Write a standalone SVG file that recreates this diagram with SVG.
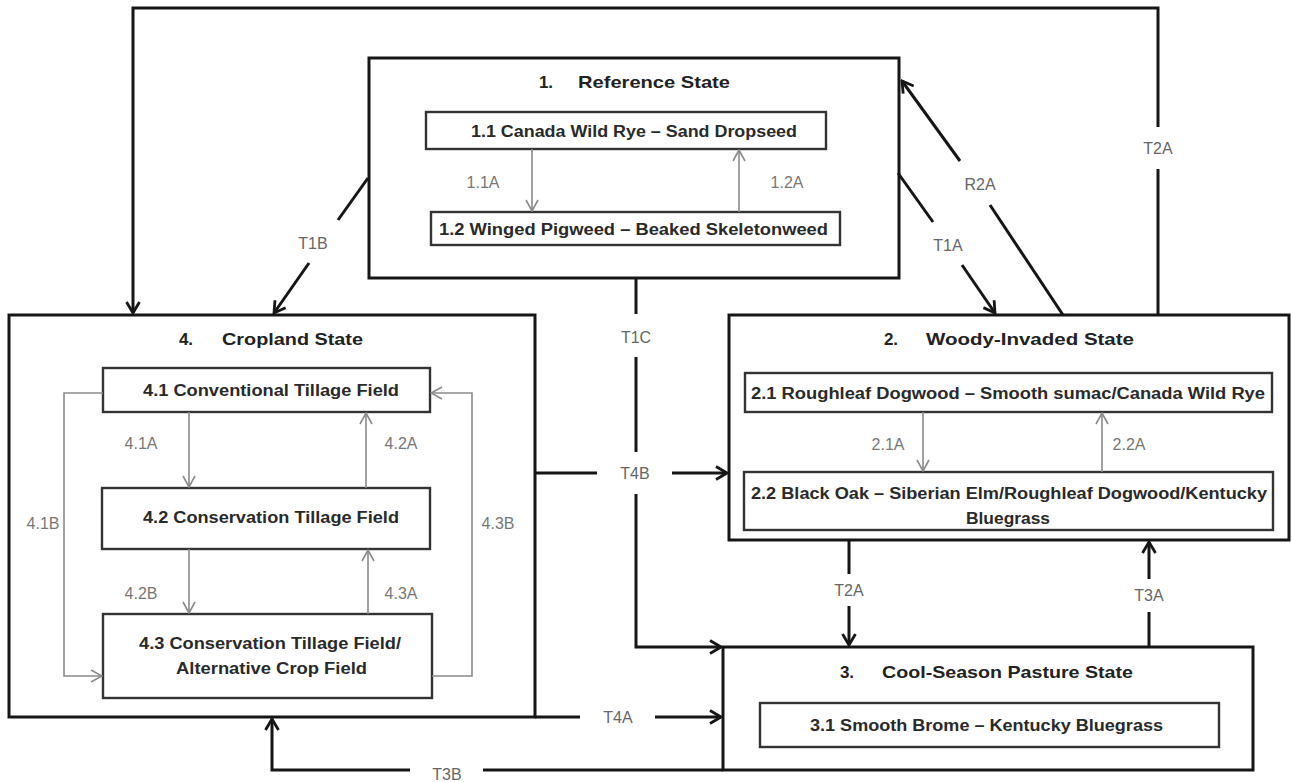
<svg xmlns="http://www.w3.org/2000/svg" width="1292" height="782" viewBox="0 0 1292 782">
<style>
.outer{fill:#fff;stroke:#161616;stroke-width:3}
.inner{fill:#fff;stroke:#333;stroke-width:2.4}
.title{font-family:"Liberation Sans",Arial,sans-serif;font-weight:bold;font-size:17px;fill:#222;dominant-baseline:central}
.box{font-family:"Liberation Sans",Arial,sans-serif;font-weight:bold;font-size:16px;fill:#2a2a2a;dominant-baseline:central}
.lbl{font-family:"Liberation Sans",Arial,sans-serif;font-size:16px;fill:#777;dominant-baseline:central;text-anchor:middle}
.tl{font-family:"Liberation Sans",Arial,sans-serif;font-size:16px;fill:#666;dominant-baseline:central;text-anchor:middle}
.blk{fill:none;stroke:#161616;stroke-width:3}
.gry{fill:none;stroke:#8a8a8a;stroke-width:1.6}
</style>
<defs>
<marker id="ab" viewBox="0 0 16 16" refX="14" refY="8" markerWidth="16" markerHeight="16" markerUnits="userSpaceOnUse" orient="auto"><path d="M3,1.5 L14,8 L3,14.5" fill="none" stroke="#161616" stroke-width="2.8"/></marker>
<marker id="ag" viewBox="0 0 14 14" refX="13" refY="7" markerWidth="14" markerHeight="14" markerUnits="userSpaceOnUse" orient="auto"><path d="M2,1 L13,7 L2,13" fill="none" stroke="#8a8a8a" stroke-width="1.6"/></marker>
</defs>
<rect width="1292" height="782" fill="#fff"/>

<g id="state1">
<rect class="outer" x="369" y="58" width="530" height="220"/>
<text class="title" x="546" y="82" text-anchor="middle">1.</text>
<text class="title" x="578" y="82" textLength="152" lengthAdjust="spacingAndGlyphs">Reference State</text>
</g>
<g id="node1_1">
<rect class="inner" x="426" y="112" width="400" height="37"/>
<text class="box" x="471" y="131" textLength="326" lengthAdjust="spacingAndGlyphs">1.1 Canada Wild Rye – Sand Dropseed</text>
</g>
<g id="node1_2">
<rect class="inner" x="431" y="212" width="409" height="33"/>
<text class="box" x="439" y="229" textLength="389" lengthAdjust="spacingAndGlyphs">1.2 Winged Pigweed – Beaked Skeletonweed</text>
</g>

<g id="state4">
<rect class="outer" x="9" y="315" width="526" height="402"/>
<text class="title" x="186" y="339" text-anchor="middle">4.</text>
<text class="title" x="222" y="339" textLength="141" lengthAdjust="spacingAndGlyphs">Cropland State</text>
</g>
<g id="node4_1">
<rect class="inner" x="103" y="368" width="327" height="44"/>
<text class="box" x="143" y="390" textLength="256" lengthAdjust="spacingAndGlyphs">4.1 Conventional Tillage Field</text>
</g>
<g id="node4_2">
<rect class="inner" x="102" y="488" width="328" height="61"/>
<text class="box" x="143" y="517" textLength="256" lengthAdjust="spacingAndGlyphs">4.2 Conservation Tillage Field</text>
</g>
<g id="node4_3">
<rect class="inner" x="103" y="614" width="329" height="84"/>
<text class="box" x="139" y="643" textLength="262" lengthAdjust="spacingAndGlyphs">4.3 Conservation Tillage Field/</text>
<text class="box" x="176" y="668" textLength="191" lengthAdjust="spacingAndGlyphs">Alternative Crop Field</text>
</g>

<g id="state2">
<rect class="outer" x="729" y="315" width="560" height="225"/>
<text class="title" x="891" y="339" text-anchor="middle">2.</text>
<text class="title" x="926" y="339" textLength="208" lengthAdjust="spacingAndGlyphs">Woody-Invaded State</text>
</g>
<g id="node2_1">
<rect class="inner" x="745" y="373" width="527" height="39"/>
<text class="box" x="751" y="393" textLength="514" lengthAdjust="spacingAndGlyphs">2.1 Roughleaf Dogwood – Smooth sumac/Canada Wild Rye</text>
</g>
<g id="node2_2">
<rect class="inner" x="744" y="472" width="529" height="58"/>
<text class="box" x="751" y="493" textLength="516" lengthAdjust="spacingAndGlyphs">2.2 Black Oak – Siberian Elm/Roughleaf Dogwood/Kentucky</text>
<text class="box" x="1008" y="518" text-anchor="middle" textLength="84" lengthAdjust="spacingAndGlyphs">Bluegrass</text>
</g>

<g id="state3">
<rect class="outer" x="723" y="647" width="530" height="123"/>
<text class="title" x="847" y="672" text-anchor="middle">3.</text>
<text class="title" x="882" y="672" textLength="251" lengthAdjust="spacingAndGlyphs">Cool-Season Pasture State</text>
</g>
<g id="node3_1">
<rect class="inner" x="760" y="703" width="459" height="44"/>
<text class="box" x="810" y="725" textLength="353" lengthAdjust="spacingAndGlyphs">3.1 Smooth Brome – Kentucky Bluegrass</text>
</g>

<g id="connectors">
<line class="gry" x1="532" y1="149" x2="532" y2="211" marker-end="url(#ag)"/>
<line class="gry" x1="739" y1="212" x2="739" y2="150" marker-end="url(#ag)"/>
<line class="gry" x1="189" y1="412" x2="189" y2="487" marker-end="url(#ag)"/>
<line class="gry" x1="366" y1="488" x2="366" y2="413" marker-end="url(#ag)"/>
<line class="gry" x1="189" y1="549" x2="189" y2="613" marker-end="url(#ag)"/>
<line class="gry" x1="368" y1="614" x2="368" y2="550" marker-end="url(#ag)"/>
<path class="gry" d="M103,393 L64,393 L64,676 L102,676" marker-end="url(#ag)"/>
<path class="gry" d="M432,676 L472,676 L472,393 L431,393" marker-end="url(#ag)"/>
<line class="gry" x1="923" y1="412" x2="923" y2="471" marker-end="url(#ag)"/>
<line class="gry" x1="1102" y1="472" x2="1102" y2="413" marker-end="url(#ag)"/>

<path class="blk" d="M1158,315 L1158,169"/>
<path class="blk" d="M1158,127 L1158,8 L133,8 L133,313" marker-end="url(#ab)"/>
<line class="blk" x1="368" y1="178" x2="338" y2="220"/>
<line class="blk" x1="309" y1="263" x2="274" y2="313" marker-end="url(#ab)"/>
<line class="blk" x1="898" y1="173" x2="933" y2="222"/>
<line class="blk" x1="962" y1="265" x2="995" y2="313" marker-end="url(#ab)"/>
<line class="blk" x1="1063" y1="315" x2="990" y2="205"/>
<line class="blk" x1="960" y1="161" x2="902" y2="81" marker-end="url(#ab)"/>
<line class="blk" x1="636" y1="278" x2="636" y2="314"/>
<line class="blk" x1="636" y1="357" x2="636" y2="452"/>
<path class="blk" d="M636,494 L636,647 L721,647" marker-end="url(#ab)"/>
<line class="blk" x1="535" y1="473" x2="597" y2="473"/>
<line class="blk" x1="672" y1="473" x2="727" y2="473" marker-end="url(#ab)"/>
<line class="blk" x1="849" y1="540" x2="849" y2="574"/>
<line class="blk" x1="849" y1="606" x2="849" y2="645" marker-end="url(#ab)"/>
<line class="blk" x1="1149" y1="647" x2="1149" y2="612"/>
<line class="blk" x1="1149" y1="579" x2="1149" y2="542" marker-end="url(#ab)"/>
<line class="blk" x1="535" y1="717" x2="580" y2="717"/>
<line class="blk" x1="655" y1="717" x2="721" y2="717" marker-end="url(#ab)"/>
<line class="blk" x1="723" y1="770" x2="483" y2="770"/>
<path class="blk" d="M410,770 L272,770 L272,719" marker-end="url(#ab)"/>

<text class="lbl" x="483" y="182">1.1A</text>
<text class="lbl" x="787" y="182">1.2A</text>
<text class="lbl" x="141" y="443">4.1A</text>
<text class="lbl" x="401" y="443">4.2A</text>
<text class="lbl" x="141" y="593">4.2B</text>
<text class="lbl" x="401" y="593">4.3A</text>
<text class="lbl" x="43" y="523">4.1B</text>
<text class="lbl" x="498" y="523">4.3B</text>
<text class="lbl" x="888" y="444">2.1A</text>
<text class="lbl" x="1129" y="444">2.2A</text>
<text class="tl" x="313" y="243">T1B</text>
<text class="tl" x="948" y="245">T1A</text>
<text class="tl" x="980" y="184">R2A</text>
<text class="tl" x="1158" y="148">T2A</text>
<text class="tl" x="636" y="337">T1C</text>
<text class="tl" x="635" y="473">T4B</text>
<text class="tl" x="849" y="590">T2A</text>
<text class="tl" x="1149" y="595">T3A</text>
<text class="tl" x="618" y="717">T4A</text>
<text class="tl" x="447" y="774">T3B</text>
</g>
</svg>
